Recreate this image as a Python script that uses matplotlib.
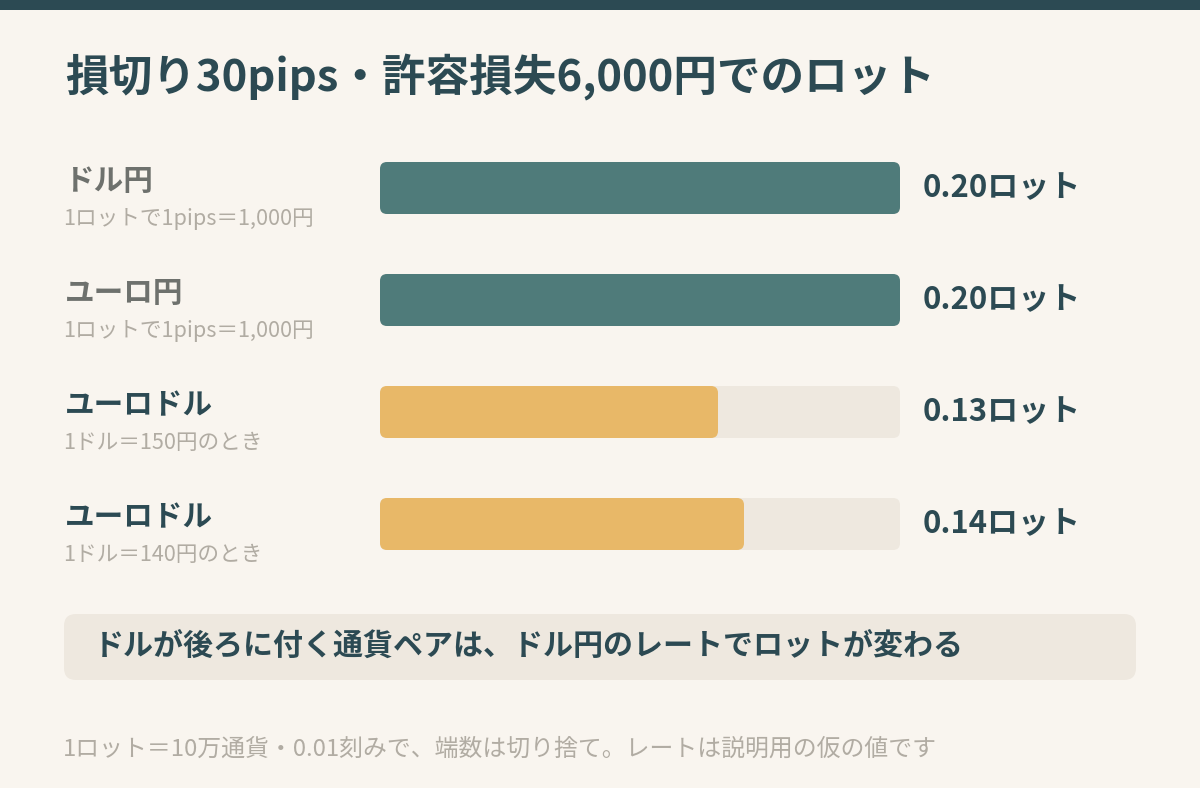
import matplotlib
matplotlib.use("Agg")
import matplotlib.pyplot as plt
from matplotlib.patches import FancyBboxPatch, Rectangle

plt.rcParams['font.family'] = ['Noto Sans CJK JP', 'DejaVu Sans']

# data
title = "損切り30pips・許容損失6,000円でのロット"
pairs = ["ドル円", "ユーロ円", "ユーロドル", "ユーロドル"]
notes = ["1ロットで1pips＝1,000円", "1ロットで1pips＝1,000円",
         "1ドル＝150円のとき", "1ドル＝140円のとき"]
lots = [0.20, 0.20, 0.13, 0.14]
lot_max = 0.20
callout = "ドルが後ろに付く通貨ペアは、ドル円のレートでロットが変わる"
footnote = "1ロット＝10万通貨・0.01刻みで、端数は切り捨て。レートは説明用の仮の値です"

BG = "#f9f5ef"
DARK = "#2c4a53"
TEAL = "#4f7b7a"
GOLD = "#e8b868"
TRACK = "#eee8df"
GREY_NAME = "#6e716d"
GREY_SUB = "#b1aca3"
bar_colors = [TEAL, TEAL, GOLD, GOLD]
name_colors = [GREY_NAME, GREY_NAME, DARK, DARK]

W, H = 1200, 788
fig = plt.figure(figsize=(12, 7.88), dpi=100, facecolor=BG)

def px(x, y):
    return x / W, 1 - y / H

# top stripe
fig.add_artist(Rectangle((0, 1 - 10 / H), 1, 10 / H, transform=fig.transFigure,
                         facecolor=DARK, edgecolor="none"))

fig.text(*px(65, 77), title, fontsize=31.4, fontweight="bold", color=DARK, va="center")

# bar area
row_top, row_step, bar_h = 162, 112, 52
n = len(lots)
ax_top = row_top - (row_step - bar_h) / 2
ax_h = row_step * n
ax = fig.add_axes([380 / W, 1 - (ax_top + ax_h) / H, 520 / W, ax_h / H])
ax.set_xlim(0, lot_max)
ax.set_ylim(n - 0.5, -0.5)
ax.axis("off")

bh = bar_h / row_step
xpp = lot_max / 520          # data x per pixel
ypp = 1 / row_step           # data y per pixel
r = 7 * xpp
aspect = ypp / xpp
for i, (v, c) in enumerate(zip(lots, bar_colors)):
    ax.add_patch(FancyBboxPatch((0, i - bh / 2), lot_max, bh,
                                boxstyle=f"round,pad=0,rounding_size={r}",
                                mutation_aspect=aspect, facecolor=TRACK, edgecolor="none"))
    ax.add_patch(FancyBboxPatch((0, i - bh / 2), v, bh,
                                boxstyle=f"round,pad=0,rounding_size={r}",
                                mutation_aspect=aspect, facecolor=c, edgecolor="none"))
    ax.text(lot_max + 23 * xpp, i, f"{v:.2f}ロット", fontsize=22.3, fontweight="bold",
            color=DARK, va="center", ha="left", clip_on=False)

    yc = row_top + bar_h / 2 + i * row_step
    fig.text(*px(65, yc - 7), pairs[i], fontsize=21.3, fontweight="bold",
             color=name_colors[i], va="center")
    fig.text(*px(63, yc + 31), notes[i], fontsize=15.6, color=GREY_SUB, va="center")

# callout box
fig.add_artist(FancyBboxPatch((64 / W, 1 - 680 / H), (1136 - 64) / W, 66 / H,
                              boxstyle="round,pad=0,rounding_size=0.01",
                              mutation_aspect=W / H, transform=fig.transFigure,
                              facecolor=TRACK, edgecolor="none"))
fig.text(*px(94, 646), callout, fontsize=21.6, fontweight="bold", color=DARK, va="center")

fig.text(*px(63, 749), footnote, fontsize=17.2, color=GREY_SUB, va="center")

fig.savefig("out.png", dpi=100, facecolor=BG)
